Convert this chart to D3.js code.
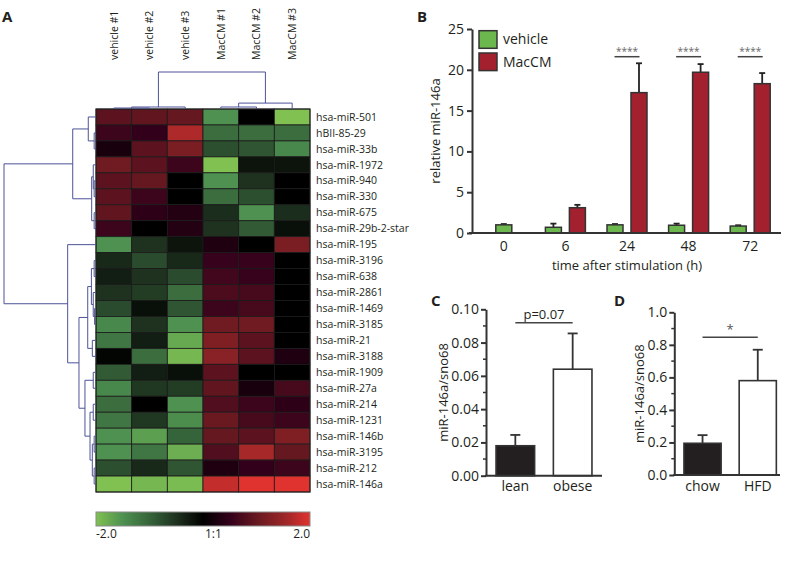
<!DOCTYPE html>
<html><head><meta charset="utf-8">
<script src="https://cdn.jsdelivr.net/npm/d3@7"></script>
<style>body{margin:0;background:#fff}svg{display:block;font-family:"Open Sans",sans-serif;}</style>
</head><body>
<script>
// ---------- DATA ----------
const colLabels = ['vehicle #1','vehicle #2','vehicle #3','MacCM #1','MacCM #2','MacCM #3'];
const rowLabels = ['hsa-miR-501','hBII-85-29','hsa-miR-33b','hsa-miR-1972','hsa-miR-940','hsa-miR-330','hsa-miR-675','hsa-miR-29b-2-star','hsa-miR-195','hsa-miR-3196','hsa-miR-638','hsa-miR-2861','hsa-miR-1469','hsa-miR-3185','hsa-miR-21','hsa-miR-3188','hsa-miR-1909','hsa-miR-27a','hsa-miR-214','hsa-miR-1231','hsa-miR-146b','hsa-miR-3195','hsa-miR-212','hsa-miR-146a'];
const heatValues = [
 [0.9,0.95,1.0,-1.5,0,-2],
 [0.6,0.5,1.65,-1.1,-1.1,-1.1],
 [0.25,0.9,1.2,-0.8,-0.85,-1.4],
 [1.1,0.9,0.6,-2,-0.2,-0.2],
 [0.9,1.0,0,-1.5,-0.5,0],
 [0.9,0.6,0,-1.1,-0.8,0],
 [0.95,0.45,0.35,-0.45,-1.5,-0.45],
 [0.6,0,0.35,-0.5,-0.9,-0.15],
 [-1.5,-0.5,-0.2,0.3,0,1.2],
 [-0.4,-0.75,-0.4,0.55,0.55,0],
 [-0.3,-0.5,-0.75,0.65,0.55,0],
 [-0.5,-0.6,-1.1,0.75,0.7,0],
 [-0.75,-0.15,-0.85,0.6,0.7,0],
 [-1.4,-0.5,-1.5,1.1,1.1,0],
 [-1.2,-0.3,-1.75,1.25,0.9,0],
 [-0.05,-1.1,-1.9,1.35,0.9,0.3],
 [-0.9,-0.3,-0.15,0.9,0,0],
 [-1.4,-0.55,-0.6,0.95,0.25,0.7],
 [-1.1,0,-1.5,0.8,0.6,0.45],
 [-1.2,-0.55,-1.45,1.05,0.7,0.6],
 [-1.5,-1.65,-1.0,1.0,0.9,1.25],
 [-1.5,-1.2,-1.8,0.8,1.6,1.0],
 [-0.8,-0.4,-0.85,0.3,0.5,0.6],
 [-2,-1.9,-1.95,1.8,2.0,2.0]
];
// dendrograms: [height, left, right]; leaves are indices
const rowTree = [1.0,
  [0.253,[0.084,0,[0.02,1,2]],[0.047,[0.03,3,[0.02,4,5]],[0.02,6,7]]],
  [0.308,8,[0.185,
     [0.09,[0.05,[0.02,9,10],[0.03,11,[0.015,12,13]]],[0.04,14,15]],
     [0.12,[0.03,16,17],[0.065,[0.03,18,19],[0.04,[0.02,20,21],[0.02,22,23]]]]]]];
const colTree = [1.0,[0.054,[0.027,0,1],2],[0.16,[0.054,3,4],5]];
const colorbarTicks = [{v:-2,t:'-2.0'},{v:0,t:'1:1'},{v:2,t:'2.0'}];

const timeCats = ['0','6','24','48','72'];
const seriesB = ['vehicle','MacCM'];
const vehicleMean = [1.0,0.7,1.0,0.95,0.85];
const vehicleErr  = [0.1,0.45,0.1,0.2,0.1];
const maccmMean   = [null,3.1,17.2,19.7,18.3];
const maccmErr    = [null,0.35,3.6,1.0,1.3];
const sigB        = ['','','****','****','****'];
const yTicksB = [0,5,10,15,20,25];

const groupsC = ['lean','obese'];
const meanC = [0.018,0.064];
const errC  = [0.0065,0.0215];
const yTicksC = [0,0.02,0.04,0.06,0.08,0.10];
const minorC = [0.01,0.03,0.05,0.07,0.09];

const groupsD = ['chow','HFD'];
const meanD = [0.195,0.58];
const errD  = [0.05,0.19];
const yTicksD = [0,0.2,0.4,0.6,0.8,1.0];
const minorD = [0.1,0.3,0.5,0.7,0.9];

// ---------- SETUP ----------
const W=787,H=572, TXT='#231f20', AX='#333';
const svg = d3.select('body').append('svg').attr('width',W).attr('height',H);
const panelLabel=(t,x,y)=>svg.append('text').attr('x',x).attr('y',y).attr('font-size',15).attr('font-weight',700).attr('fill',TXT).text(t);

// ---------- PANEL A ----------
panelLabel('A',2,22);
const color = d3.scaleLinear()
  .domain([-2,-1.5,-1,-0.5,0,0.5,1,1.5,2])
  .range(['#80c152','#4e9150','#36643a','#1e321f','#000000','#32001a','#661820','#982628','#e0322f']);
const HM_TOP=109, HM_BOT=492;
const colX = d3.scaleBand().domain(d3.range(colLabels.length)).range([96,310]);
const rowY = d3.scaleBand().domain(d3.range(rowLabels.length)).range([HM_TOP,HM_BOT]);
const gA = svg.append('g');
heatValues.forEach((row,r)=>row.forEach((v,c)=>{
  gA.append('rect').attr('x',colX(c)).attr('y',rowY(r)).attr('width',colX.bandwidth()).attr('height',rowY.bandwidth())
    .attr('fill',color(v)).attr('stroke','#1a1a1a').attr('stroke-width',0.8);
}));
gA.append('rect').attr('x',96).attr('y',HM_TOP).attr('width',214).attr('height',HM_BOT-HM_TOP).attr('fill','none').attr('stroke','#222').attr('stroke-width',1);
// row labels
gA.selectAll('.rl').data(rowLabels).join('text').attr('x',316).attr('y',(d,i)=>rowY(i)+rowY.bandwidth()/2)
  .attr('dy','0.35em').attr('font-size',10.5).attr('fill',TXT).text(d=>d);
// col labels
gA.selectAll('.cl').data(colLabels).join('text')
  .attr('transform',(d,i)=>`translate(${colX(i)+colX.bandwidth()/2},60) rotate(-90)`)
  .attr('dy','0.35em').attr('font-size',10.5).attr('fill',TXT).text(d=>d);
// dendrograms
const dendColor='#4d5398';
const rowDist = d3.scaleLinear().domain([0,1]).range([96,4]);
function drawRowTree(n){
  if(typeof n==='number') return {x:96,y:rowY(n)+rowY.bandwidth()/2};
  const a=drawRowTree(n[1]), b=drawRowTree(n[2]);
  const x=rowDist(n[0]);
  gA.append('path').attr('d',`M${a.x},${a.y}H${x}V${b.y}H${b.x}`).attr('fill','none').attr('stroke',dendColor).attr('stroke-width',1);
  return {x, y:(a.y+b.y)/2};
}
drawRowTree(rowTree);
const colDist = d3.scaleLinear().domain([0,1]).range([HM_TOP,72]);
function drawColTree(n){
  if(typeof n==='number') return {x:colX(n)+colX.bandwidth()/2,y:HM_TOP};
  const a=drawColTree(n[1]), b=drawColTree(n[2]);
  const y=colDist(n[0]);
  gA.append('path').attr('d',`M${a.x},${a.y}V${y}H${b.x}V${b.y}`).attr('fill','none').attr('stroke',dendColor).attr('stroke-width',1);
  return {x:(a.x+b.x)/2, y};
}
drawColTree(colTree);
// colorbar
const cb = d3.scaleLinear().domain([-2,2]).range([96,310]);
const grad = svg.append('defs').append('linearGradient').attr('id','cbg');
d3.range(0,41).forEach(i=>{const v=-2+i*0.1; grad.append('stop').attr('offset',(i/40*100)+'%').attr('stop-color',color(v));});
gA.append('rect').attr('x',cb(-2)).attr('y',512).attr('width',cb(2)-cb(-2)).attr('height',14).attr('fill','url(#cbg)').attr('stroke','#8a8a8a').attr('stroke-width',1);
gA.selectAll('.cbt').data(colorbarTicks).join('text')
  .attr('x',d=>d.v===0?cb(d.v)+2:cb(d.v)).attr('y',538)
  .attr('text-anchor',d=>d.v>0?'end':'start')
  .attr('font-size',12).attr('fill',TXT).text(d=>d.t);

// ---------- PANEL B ----------
panelLabel('B',417,22);
const gB = svg.append('g');
const xB = d3.scaleBand().domain(timeCats).range([473,781]);
const xBi = d3.scaleBand().domain(seriesB).range([-20,20]).paddingInner(0.333);
const yB = d3.scaleLinear().domain([0,25]).range([233,29]);
const barColor = {vehicle:'#6cb84e', MacCM:'#a3202f'};
const rowsB = [];
timeCats.forEach((t,i)=>{
  const single = maccmMean[i]==null;
  rowsB.push({t,s:'vehicle',m:vehicleMean[i],e:vehicleErr[i],single});
  if(!single) rowsB.push({t,s:'MacCM',m:maccmMean[i],e:maccmErr[i],single});
});
const bxB = d=> d.single ? xB(d.t)+xB.bandwidth()/2 - xBi.bandwidth()/2 : xB(d.t)+xB.bandwidth()/2 + xBi(d.s);
rowsB.forEach(d=>{
  const x=bxB(d), cx=x+xBi.bandwidth()/2;
  gB.append('line').attr('x1',cx).attr('x2',cx).attr('y1',yB(d.m)).attr('y2',yB(d.m+d.e)).attr('stroke','#222').attr('stroke-width',1.8);
  gB.append('line').attr('x1',cx-3).attr('x2',cx+3).attr('y1',yB(d.m+d.e)).attr('y2',yB(d.m+d.e)).attr('stroke','#222').attr('stroke-width',1.8);
  gB.append('rect').attr('x',x).attr('y',yB(d.m)).attr('width',xBi.bandwidth()).attr('height',yB(0)-yB(d.m))
    .attr('fill',barColor[d.s]).attr('stroke','#333').attr('stroke-width',1.5);
});
const axB = gB.append('g').attr('transform','translate(472,0)').call(d3.axisLeft(yB).tickValues(yTicksB).tickSize(5).tickSizeOuter(0).tickPadding(3));
axB.select('.domain').attr('stroke',AX).attr('stroke-width',2);
axB.selectAll('.tick line').attr('stroke',AX).attr('stroke-width',2);
axB.selectAll('.tick text').attr('font-size',14).attr('fill',TXT).attr('font-family','"Open Sans",sans-serif');
gB.append('line').attr('x1',469).attr('x2',781).attr('y1',yB(0)).attr('y2',yB(0)).attr('stroke',AX).attr('stroke-width',2);
gB.selectAll('.xl').data(timeCats).join('text').attr('x',d=>xB(d)+xB.bandwidth()/2).attr('y',251)
  .attr('text-anchor','middle').attr('font-size',14).attr('fill',TXT).text(d=>d);
gB.append('text').attr('x',627).attr('y',270).attr('text-anchor','middle').attr('font-size',13).attr('fill',TXT).text('time after stimulation (h)');
gB.append('text').attr('transform',`translate(435,${(yB(0)+yB(25))/2}) rotate(-90)`).attr('text-anchor','middle').attr('dy','0.35em')
  .attr('font-size',13).attr('fill',TXT).text('relative miR-146a');
timeCats.forEach((t,i)=>{
  if(!sigB[i]) return;
  const c=xB(t)+xB.bandwidth()/2;
  gB.append('line').attr('x1',c-12.5).attr('x2',c+12.5).attr('y1',56.7).attr('y2',56.7).attr('stroke','#444').attr('stroke-width',1.5);
  gB.append('text').attr('x',c).attr('y',55).attr('text-anchor','middle').attr('font-size',10).attr('fill','#666').text(sigB[i]);
});
// legend
seriesB.forEach((s,i)=>{
  gB.append('rect').attr('x',479).attr('y',30.7+i*22.3).attr('width',18).attr('height',17.6).attr('fill',barColor[s]).attr('stroke','#333').attr('stroke-width',1.5);
  gB.append('text').attr('x',503).attr('y',39.5+i*22.3).attr('dy','0.35em').attr('font-size',14).attr('fill',TXT).text(s);
});

// ---------- PANEL C & D ----------
function smallPanel(opts){
  const g = svg.append('g');
  const x = d3.scaleBand().domain(opts.groups).range(opts.xr).paddingInner(0.327).paddingOuter(0.175);
  const y = d3.scaleLinear().domain([0,opts.max]).range(opts.yr);
  opts.groups.forEach((gname,i)=>{
    const bx=x(gname), cx=bx+x.bandwidth()/2, m=opts.mean[i], e=opts.err[i];
    g.append('line').attr('x1',cx).attr('x2',cx).attr('y1',y(m)).attr('y2',y(m+e)).attr('stroke','#333').attr('stroke-width',1.8);
    g.append('line').attr('x1',cx-5).attr('x2',cx+5).attr('y1',y(m+e)).attr('y2',y(m+e)).attr('stroke','#333').attr('stroke-width',1.8);
    g.append('rect').attr('x',bx).attr('y',y(m)).attr('width',x.bandwidth()).attr('height',y(0)-y(m))
      .attr('fill',i===0?'#231f20':'#fff').attr('stroke','#333').attr('stroke-width',1.6);
    g.append('text').attr('x',cx).attr('y',opts.labY).attr('text-anchor','middle').attr('font-size',14).attr('fill',TXT).text(gname);
  });
  const ax = g.append('g').attr('transform',`translate(${opts.xr[0]},0)`).call(d3.axisLeft(y).tickValues(opts.ticks).tickFormat(d3.format(opts.fmt)).tickSize(5).tickSizeOuter(0).tickPadding(2));
  ax.select('.domain').attr('stroke',AX).attr('stroke-width',2);
  ax.selectAll('.tick line').attr('stroke',AX).attr('stroke-width',2);
  ax.selectAll('.tick text').attr('font-size',14).attr('fill',TXT).attr('font-family','"Open Sans",sans-serif');
  opts.minor.forEach(v=>g.append('line').attr('x1',opts.xr[0]-3).attr('x2',opts.xr[0]).attr('y1',y(v)).attr('y2',y(v)).attr('stroke',AX).attr('stroke-width',1.5));
  g.append('line').attr('x1',opts.xr[0]-1).attr('x2',opts.axEnd).attr('y1',y(0)).attr('y2',y(0)).attr('stroke',AX).attr('stroke-width',2);
  g.append('text').attr('transform',`translate(${opts.titleX},${(opts.yr[0]+opts.yr[1])/2}) rotate(-90)`).attr('text-anchor','middle').attr('dy','0.35em')
    .attr('font-size',13).attr('fill',TXT).text('miR-146a/sno68');
  const c0=x(opts.groups[0])+x.bandwidth()/2, c1=x(opts.groups[1])+x.bandwidth()/2;
  g.append('line').attr('x1',c0).attr('x2',c1).attr('y1',opts.sigY).attr('y2',opts.sigY).attr('stroke','#444').attr('stroke-width',1.5);
  g.append('text').attr('x',(c0+c1)/2).attr('y',opts.sigY-3.5).attr('text-anchor','middle').attr('font-size',opts.sigSize).attr('fill',opts.sigColor).text(opts.sig);
}
panelLabel('C',431,306);
smallPanel({groups:groupsC,mean:meanC,err:errC,max:0.1,xr:[486,602],yr:[475.7,309.3],ticks:yTicksC,minor:minorC,fmt:'.2f',
  labY:491,titleX:443,axEnd:602,sigY:322.7,sig:'p=0.07',sigSize:13,sigColor:TXT});
panelLabel('D',614,306);
smallPanel({groups:groupsD,mean:meanD,err:errD,max:1.0,xr:[674.3,786],yr:[475,312.3],ticks:yTicksD,minor:minorD,fmt:'.1f',
  labY:491,titleX:639,axEnd:780,sigY:337.3,sig:'*',sigSize:13,sigColor:'#555'});
</script>
</body></html>
